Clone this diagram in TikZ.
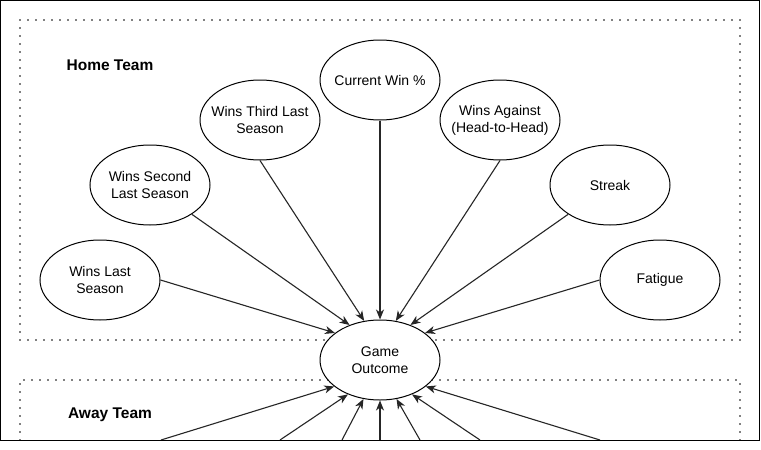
\documentclass[tikz,border=0pt]{standalone}
\usepackage{fontspec}
\setmainfont{Liberation Sans}
\usetikzlibrary{shapes.geometric,arrows.meta}
\begin{document}
\begin{tikzpicture}[x=1pt,y=-1pt,
  var/.style={ellipse,draw,fill=white,line width=1pt,minimum width=120pt,minimum height=80pt,inner xsep=-12pt,inner ysep=0pt,align=center,font=\fontsize{14}{16.8}\selectfont},
  arr/.style={draw=black!85,line width=1.1pt,-{Stealth[length=10pt,width=8pt,inset=3pt]}},
  grp/.style={line width=1.8pt,dash pattern=on 0pt off 8pt,line cap=round},
  title/.style={font=\fontsize{15.5}{18}\bfseries\selectfont}
]
\useasboundingbox (0,0) rectangle (761,450);
\fill[white] (0,0) rectangle (761,450);
% group boxes
\draw[grp] (20,20) rectangle (740,340);
\draw[grp] (20,440) -- (20,380) -- (740,380) -- (740,440);
\node[title] (ht) at (110,65) {Home Team};
\node[title] (at) at (110,415) {Away Team};
% nodes
\node[var] (go) at (380,360) {Game\\Outcome};
\node[var] (cw) at (380,80) {Current Win \%};
\node[var] (w3) at (260,120) {Wins Third Last\\Season};
\node[var] (wa) at (500,120) {Wins Against\\(Head-to-Head)};
\node[var] (w2) at (150,185) {Wins Second\\Last Season};
\node[var] (st) at (610,185) {Streak};
\node[var] (w1) at (100,280) {Wins Last\\Season};
\node[var] (fa) at (660,280) {Fatigue};
% home edges
\draw[arr] (w1.east) -- (go.149);
\draw[arr] (w2.-35) -- (go.131);
\draw[arr] (w3.south) -- (go.112);
\draw[arr] (cw.south) -- (go.north);
\draw[arr] (wa.south) -- (go.68);
\draw[arr] (st.215) -- (go.49);
\draw[arr] (fa.west) -- (go.31);
% away edges (sources cut off by frame)
\coordinate (b1) at (161,440);
\coordinate (b2) at (280,440);
\coordinate (b3) at (342,440);
\coordinate (b4) at (380,440);
\coordinate (b5) at (420,440);
\coordinate (b6) at (480,440);
\coordinate (b7) at (600,440);
\draw[arr] (b1) -- (go.210);
\draw[arr] (b2) -- (go.227);
\draw[arr] (b3) -- (go.247);
\draw[arr] (b4) -- (go.south);
\draw[arr] (b5) -- (go.293);
\draw[arr] (b6) -- (go.313);
\draw[arr] (b7) -- (go.330);
% frame
\draw[line width=1pt] (0.5,0.5) rectangle (759.5,440);
\end{tikzpicture}
\end{document}
